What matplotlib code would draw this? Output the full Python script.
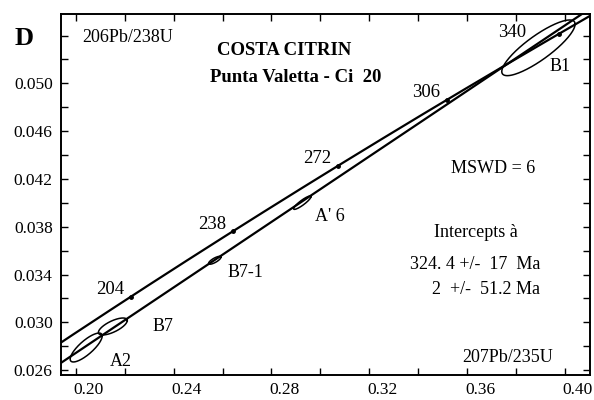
import numpy as np
import matplotlib.pyplot as plt
from matplotlib.ticker import MultipleLocator, FixedLocator
from matplotlib.transforms import ScaledTranslation

plt.rcParams['font.family'] = ['Liberation Serif', 'DejaVu Serif']

# decay constants (1/yr)
L238 = 1.55125e-10
L235 = 9.8485e-10

# concordia age marks (Ma) and discordia intercepts (Ma)
age_ticks = [204, 238, 272, 306, 340]
intercepts = [324.4, 2.0]

# analysed zircons: 207Pb/235U, 206Pb/238U, errors and correlation
spot_names = ['A2', 'B7', 'B7-1', "A' 6", 'B1']
spot_x = [0.2042, 0.2151, 0.2568, 0.2926, 0.3892]
spot_y = [0.02789, 0.02965, 0.03519, 0.04001, 0.05297]
spot_sx = [0.00655, 0.0059, 0.00254, 0.00356, 0.0150]
spot_sy = [0.00121, 0.00071, 0.00033, 0.00056, 0.00233]
spot_rho = [0.80, 0.70, 0.78, 0.90, 0.85]

x_ticks = [0.20, 0.24, 0.28, 0.32, 0.36, 0.40]
y_ticks = [0.026, 0.030, 0.034, 0.038, 0.042, 0.046, 0.050]


def ratios(t_ma):
    t = np.asarray(t_ma, dtype=float) * 1e6
    return np.exp(L235 * t) - 1, np.exp(L238 * t) - 1


fig = plt.figure(figsize=(5.94, 4.0), dpi=100)
ax = fig.add_axes([0.1027, 0.0625, 0.8906, 0.9025])
xmin, xmax = 0.1939, 0.4103
ax.set_xlim(xmin, xmax)
ax.set_ylim(0.02559, 0.0558)

# concordia
cx, cy = ratios(np.linspace(150, 380, 400))
ax.plot(cx, cy, color='black', lw=1.6)
tx, ty = ratios(age_ticks)
ax.plot(tx, ty, 'o', color='black', ms=2.5)
for age, x, y in zip(age_ticks, tx, ty):
    off = (-34, 1) if age == 340 else (-15, 5)
    ax.annotate(str(age), (x, y), xytext=off, textcoords='offset points',
                ha='center', va='center', fontsize=13.5)

# discordia through both intercepts
ix, iy = ratios(intercepts)
slope = (iy[0] - iy[1]) / (ix[0] - ix[1])
dx = np.array([xmin - 0.01, xmax + 0.01])
ax.plot(dx, iy[1] + slope * (dx - ix[1]), color='black', lw=1.6)

# error ellipses
th = np.linspace(0, 2 * np.pi, 200)
for x0, y0, sx, sy, r in zip(spot_x, spot_y, spot_sx, spot_sy, spot_rho):
    ex = x0 + sx * np.cos(th)
    ey = y0 + sy * (r * np.cos(th) + np.sqrt(1 - r ** 2) * np.sin(th))
    ax.plot(ex, ey, color='black', lw=1.1)

label_pos = {'A2': (0.2185, 0.02668), 'B7': (0.2358, 0.02963),
             'B7-1': (0.2692, 0.03415), "A' 6": (0.3040, 0.03884),
             'B1': (0.3981, 0.05139)}
for name in spot_names:
    ax.text(*label_pos[name], name, ha='center', va='center', fontsize=13)

# texts
fig.text(0.0404, 0.904, 'D', fontsize=19, fontweight='bold', ha='center', va='center')
ax.text(0.0397, 0.935, '206Pb/238U', transform=ax.transAxes, fontsize=13, va='center')
ax.text(0.4225, 0.900, 'COSTA CITRIN', transform=ax.transAxes, fontsize=13.5,
        fontweight='bold', ha='center', va='center')
ax.text(0.444, 0.823, 'Punta Valetta - Ci  20', transform=ax.transAxes, fontsize=13.5,
        fontweight='bold', ha='center', va='center')
ax.text(0.8176, 0.5734, 'MSWD = 6', transform=ax.transAxes, fontsize=13,
        ha='center', va='center')
ax.text(0.7836, 0.396, 'Intercepts à', transform=ax.transAxes, fontsize=13,
        ha='center', va='center')
ax.text(0.9055, 0.307, '324. 4 +/-  17  Ma', transform=ax.transAxes, fontsize=13,
        ha='right', va='center')
ax.text(0.9055, 0.2355, '2  +/-  51.2 Ma', transform=ax.transAxes, fontsize=13,
        ha='right', va='center')
ax.text(0.930, 0.0485, '207Pb/235U', transform=ax.transAxes, fontsize=13,
        ha='right', va='center')

# axes styling
ax.xaxis.set_major_locator(FixedLocator(x_ticks))
ax.xaxis.set_minor_locator(MultipleLocator(0.02))
ax.yaxis.set_major_locator(FixedLocator(y_ticks))
ax.yaxis.set_minor_locator(MultipleLocator(0.002))
ax.xaxis.set_major_formatter(lambda v, p: f'{v:.2f}')
ax.yaxis.set_major_formatter(lambda v, p: f'{v:.3f}')
ax.tick_params(which='both', direction='in', length=5, width=1,
               top=True, right=True, labelsize=12.5)
ax.tick_params(axis='x', pad=5)
ax.tick_params(axis='y', pad=6)
for s in ax.spines.values():
    s.set_linewidth(1.4)

fig.canvas.draw()
shift = ScaledTranslation(0.13, 0, fig.dpi_scale_trans)
for lab in ax.get_xticklabels():
    lab.set_transform(lab.get_transform() + shift)

fig.savefig('out.png', dpi=100)
